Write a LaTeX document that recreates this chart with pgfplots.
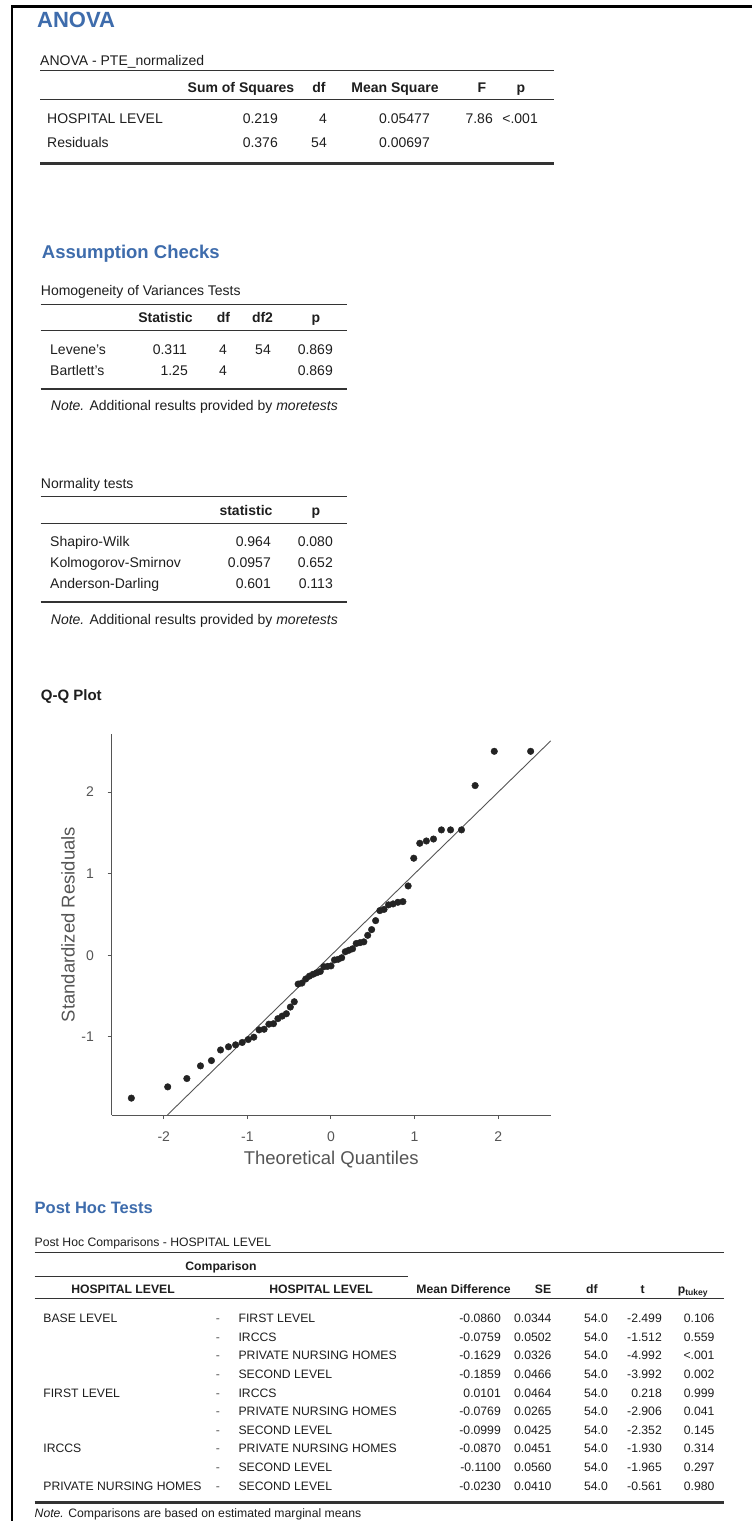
\documentclass[border=0pt]{standalone}
\usepackage{fontspec}
\setmainfont{Liberation Sans}
\usepackage{pgfplots}
\pgfplotsset{compat=1.18}
\usepackage{pgfplotstable}
\definecolor{jblue}{RGB}{62,108,172}
\definecolor{jtext}{RGB}{30,30,30}
\definecolor{jrule}{RGB}{51,51,51}
\definecolor{jgray}{RGB}{85,85,85}
\definecolor{jpt}{RGB}{35,35,35}
\newcommand{\fs}[1]{\fontsize{#1}{#1}\selectfont}

\pgfplotstableread{
x y
-2.388 -1.750
-1.953 -1.612
-1.724 -1.510
-1.561 -1.355
-1.430 -1.290
-1.321 -1.160
-1.226 -1.121
-1.141 -1.097
-1.062 -1.068
-0.990 -1.032
-0.923 -1.003
-0.860 -0.914
-0.800 -0.906
-0.743 -0.844
-0.688 -0.838
-0.635 -0.776
-0.584 -0.745
-0.534 -0.716
-0.486 -0.634
-0.439 -0.569
-0.393 -0.352
-0.347 -0.340
-0.302 -0.290
-0.258 -0.255
-0.214 -0.232
-0.171 -0.214
-0.128 -0.198
-0.085 -0.140
-0.042 -0.136
0.000 -0.130
0.042 -0.057
0.085 -0.049
0.128 -0.030
0.171 0.044
0.214 0.062
0.258 0.080
0.302 0.145
0.347 0.155
0.393 0.165
0.439 0.245
0.486 0.315
0.534 0.425
0.584 0.548
0.635 0.563
0.688 0.618
0.743 0.630
0.800 0.650
0.860 0.658
0.923 0.850
0.990 1.190
1.062 1.373
1.141 1.401
1.226 1.425
1.321 1.537
1.430 1.537
1.561 1.537
1.724 2.080
1.953 2.500
2.388 2.500
}\qqdata

\newcommand{\phrow}[7]{%
 \node[tl] at (43.2,-#1) {#2};
 \node[tc,text=jgray] at (218,-#1) {-};
 \node[tl] at (238.4,-#1) {#3};
 \node[tr] at (501,-#1) {#4};
 \node[tr] at (551.6,-#1) {#5};
 \node[tr] at (608,-#1) {54.0};
 \node[tr] at (662,-#1) {#6};
 \node[tr] at (714.6,-#1) {#7};}

\begin{document}
\begin{tikzpicture}[x=1pt,y=1pt,
  tl/.style={inner sep=0pt,anchor=base west,text=jtext},
  tr/.style={inner sep=0pt,anchor=base east,text=jtext},
  tc/.style={inner sep=0pt,anchor=base,text=jtext}]
\useasboundingbox (0,0) rectangle (752,-1521);
\fill[white] (0,0) rectangle (752,-1521);
\draw[black,line width=2.5pt] (12,-1521) -- (12,-6.5) -- (752,-6.5);

% ---------------- ANOVA ----------------
\node[tl,text=jblue,font=\fs{22}\bfseries] at (37,-27) {ANOVA};
\begin{scope}[font=\fs{14}]
\node[tl] at (40,-65) {ANOVA - PTE\_normalized};
\draw[jrule,line width=1pt] (40,-70.7) -- (553.6,-70.7);
\node[tc,font=\fs{14}\bfseries] at (241,-92) {Sum of Squares};
\node[tc,font=\fs{14}\bfseries] at (319,-92) {df};
\node[tc,font=\fs{14}\bfseries] at (395,-92) {Mean Square};
\node[tc,font=\fs{14}\bfseries] at (482,-92) {F};
\node[tc,font=\fs{14}\bfseries] at (521,-92) {p};
\draw[jrule,line width=1pt] (40,-99.3) -- (553.6,-99.3);
\node[tl] at (47,-123) {HOSPITAL LEVEL};
\node[tr] at (278,-123) {0.219};
\node[tr] at (327,-123) {4};
\node[tr] at (430,-123) {0.05477};
\node[tr] at (493,-123) {7.86};
\node[tr] at (538,-123) {<.001};
\node[tl] at (47,-147) {Residuals};
\node[tr] at (278,-147) {0.376};
\node[tr] at (327,-147) {54};
\node[tr] at (430,-147) {0.00697};
\draw[jrule,line width=2.5pt] (40,-163.5) -- (553.6,-163.5);

% ---------------- Assumption checks ----------------
\node[tl,text=jblue,font=\fs{18.5}\bfseries] at (41.7,-258.5) {Assumption Checks};
\node[tl] at (40.7,-295) {Homogeneity of Variances Tests};
\draw[jrule,line width=1pt] (40.7,-304) -- (346.7,-304);
\node[tc,font=\fs{14}\bfseries] at (165.5,-322) {Statistic};
\node[tc,font=\fs{14}\bfseries] at (223.5,-322) {df};
\node[tc,font=\fs{14}\bfseries] at (262.5,-322) {df2};
\node[tc,font=\fs{14}\bfseries] at (316,-322) {p};
\draw[jrule,line width=1pt] (40.7,-330.7) -- (346.7,-330.7);
\node[tl] at (50,-354) {Levene's};
\node[tr] at (187,-354) {0.311};
\node[tr] at (227,-354) {4};
\node[tr] at (271,-354) {54};
\node[tr] at (333,-354) {0.869};
\node[tl] at (50,-375) {Bartlett's};
\node[tr] at (188,-375) {1.25};
\node[tr] at (227,-375) {4};
\node[tr] at (333,-375) {0.869};
\draw[jrule,line width=2.5pt] (40.7,-389) -- (346.7,-389);
\node[tl] at (50.7,-410.7) {\textit{Note.} Additional results provided by \textit{moretests}};

\node[tl] at (40.7,-488) {Normality tests};
\draw[jrule,line width=1pt] (40.7,-496.7) -- (346.7,-496.7);
\node[tc,font=\fs{14}\bfseries] at (246,-515) {statistic};
\node[tc,font=\fs{14}\bfseries] at (316,-515) {p};
\draw[jrule,line width=1pt] (40.7,-523) -- (346.7,-523);
\node[tl] at (50,-546.7) {Shapiro-Wilk};
\node[tr] at (271,-546.7) {0.964};
\node[tr] at (333,-546.7) {0.080};
\node[tl] at (50,-567.5) {Kolmogorov-Smirnov};
\node[tr] at (271,-567.5) {0.0957};
\node[tr] at (333,-567.5) {0.652};
\node[tl] at (50,-588.3) {Anderson-Darling};
\node[tr] at (271,-588.3) {0.601};
\node[tr] at (333,-588.3) {0.113};
\draw[jrule,line width=2.5pt] (40.7,-602) -- (346.7,-602);
\node[tl] at (50.7,-624) {\textit{Note.} Additional results provided by \textit{moretests}};
\end{scope}

% ---------------- Q-Q plot ----------------
\node[tl,font=\fs{15}\bfseries] at (40.7,-700) {Q-Q Plot};

\begin{axis}[at={(111.7pt,-1115pt)}, anchor=south west,
  scale only axis, width=439pt, height=381pt,
  xmin=-2.623, xmax=2.628, ymin=-1.957, ymax=2.712,
  axis x line*=bottom, axis y line*=left,
  axis line style={jgray, line width=1pt},
  xtick={-2,-1,0,1,2}, xticklabels={-2,-1,0,1,2},
  ytick={-1,0,1,2}, yticklabels={-1,0,1,2},
  tick align=outside, major tick length=4pt,
  tick style={jgray, line width=1pt},
  ticklabel style={font=\fs{14}, text=jgray},
  xticklabel style={anchor=north, inner sep=0pt, yshift=-13pt},
  yticklabel style={anchor=east, inner sep=0pt, xshift=-13.7pt},
  xlabel={Theoretical Quantiles}, ylabel={Standardized Residuals},
  label style={font=\fs{18.5}, text=jgray},
  xlabel style={at={(axis description cs:0.5,-0.1181)}, anchor=center},
  ylabel style={at={(axis description cs:-0.0995,0.5)}, anchor=center},
  clip=false]
\addplot[jgray, line width=0.9pt] coordinates {(-1.957,-1.957) (2.628,2.628)};
\addplot[only marks, mark=*, mark size=3.3pt, color=jpt] table {\qqdata};
\end{axis}

% ---------------- Post hoc ----------------
\node[tl,text=jblue,font=\fs{16.5}\bfseries] at (34.5,-1213) {Post Hoc Tests};
\begin{scope}[font=\fs{12.2}]
\node[tl] at (34.5,-1246) {Post Hoc Comparisons - HOSPITAL LEVEL};
\draw[jrule,line width=1pt] (34.5,-1252) -- (724,-1252);
\node[tc,font=\fs{12.2}\bfseries] at (221,-1270) {Comparison};
\draw[jrule,line width=1pt] (34.5,-1276) -- (407.7,-1276);
\node[tc,font=\fs{12.2}\bfseries] at (123,-1293.7) {HOSPITAL LEVEL};
\node[tc,font=\fs{12.2}\bfseries] at (321,-1293.7) {HOSPITAL LEVEL};
\node[tc,font=\fs{12.2}\bfseries] at (463.5,-1293.7) {Mean Difference};
\node[tc,font=\fs{12.2}\bfseries] at (543,-1293.7) {SE};
\node[tc,font=\fs{12.2}\bfseries] at (592,-1293.7) {df};
\node[tc,font=\fs{12.2}\bfseries] at (642.6,-1293.7) {t};
\node[tc,font=\fs{12.2}\bfseries] at (693,-1293.7) {p\textsubscript{tukey}};
\draw[jrule,line width=1pt] (34.5,-1298.3) -- (724,-1298.3);
\phrow{1322.7}{BASE LEVEL}{FIRST LEVEL}{-0.0860}{0.0344}{-2.499}{0.106}
\phrow{1341.3}{}{IRCCS}{-0.0759}{0.0502}{-1.512}{0.559}
\phrow{1359.9}{}{PRIVATE NURSING HOMES}{-0.1629}{0.0326}{-4.992}{<.001}
\phrow{1378.5}{}{SECOND LEVEL}{-0.1859}{0.0466}{-3.992}{0.002}
\phrow{1397.1}{FIRST LEVEL}{IRCCS}{0.0101}{0.0464}{0.218}{0.999}
\phrow{1415.7}{}{PRIVATE NURSING HOMES}{-0.0769}{0.0265}{-2.906}{0.041}
\phrow{1434.3}{}{SECOND LEVEL}{-0.0999}{0.0425}{-2.352}{0.145}
\phrow{1452.9}{IRCCS}{PRIVATE NURSING HOMES}{-0.0870}{0.0451}{-1.930}{0.314}
\phrow{1471.5}{}{SECOND LEVEL}{-0.1100}{0.0560}{-1.965}{0.297}
\phrow{1490.1}{PRIVATE NURSING HOMES}{SECOND LEVEL}{-0.0230}{0.0410}{-0.561}{0.980}
\draw[jrule,line width=2.5pt] (34.5,-1502.3) -- (724,-1502.3);
\node[tl] at (34.5,-1517.7) {\textit{Note.} Comparisons are based on estimated marginal means};
\end{scope}
\end{tikzpicture}
\end{document}
